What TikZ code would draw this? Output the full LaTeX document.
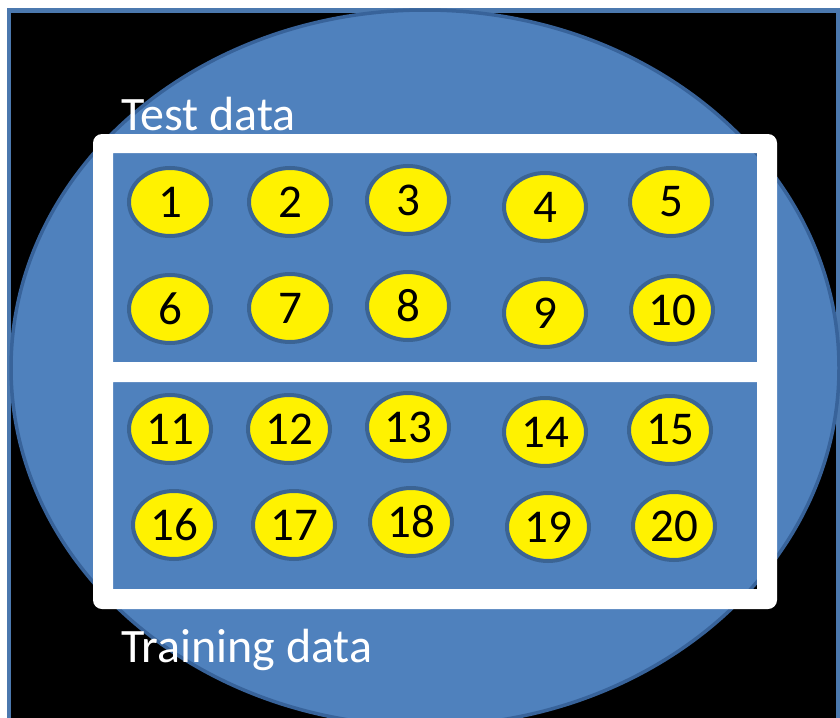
\documentclass[tikz,border=0pt]{standalone}
\usepackage{fontspec}
\setmainfont{Carlito}
\usetikzlibrary{shapes.geometric}
\definecolor{ellfill}{HTML}{4F81BD}
\definecolor{ellline}{HTML}{38639A}
\definecolor{frameline}{HTML}{4B78AE}
\definecolor{dotline}{HTML}{3B6494}
\tikzset{
  dot/.style={ellipse, draw=dotline, line width=4pt, fill=yellow, minimum width=82pt, minimum height=68pt, inner sep=0pt, font=\fontsize{47}{52}\selectfont, text=black},
  label/.style={anchor=base west, inner sep=0pt, text=white, font=\fontsize{48}{56}\selectfont}
}
\begin{document}
\begin{tikzpicture}[x=1pt,y=-1pt]
\useasboundingbox (0,0) rectangle (840,717);
\begin{scope}
\clip (0,0) rectangle (840,717);
\fill[white] (0,0) rectangle (840,717);
\fill[black] (9,10.5) rectangle (838,740);
\draw[frameline, line width=4.5pt] (838,740) -- (9,740) -- (9,10.5) -- (838,10.5) -- cycle;
\node[ellipse, fill=ellfill, draw=ellline, line width=3.5pt, minimum width=828pt, minimum height=716pt, inner sep=0pt] (big) at (425,368) {};
\fill[white, even odd rule, rounded corners=9pt] (93,134) rectangle (777,609)
  [sharp corners] (113,153) rectangle (757,362) (113,382) rectangle (757,589);
\node[label] (test) at (121,130) {Test data};
\node[label] (train) at (121,662) {Training data};
\node[dot] (n1) at (170,202) {1};
\node[dot] (n2) at (290,202) {2};
\node[dot] (n3) at (408,200) {3};
\node[dot] (n4) at (545,207) {4};
\node[dot] (n5) at (671,202) {5};
\node[dot] (n6) at (170,309) {6};
\node[dot] (n7) at (290,308) {7};
\node[dot] (n8) at (408,306) {8};
\node[dot] (n9) at (545,313) {9};
\node[dot] (n10) at (672,310) {10};
\node[dot] (n11) at (170,429) {11};
\node[dot] (n12) at (289,429) {12};
\node[dot] (n13) at (408,427) {13};
\node[dot] (n14) at (545,432) {14};
\node[dot] (n15) at (670,430) {15};
\node[dot] (n16) at (174,525) {16};
\node[dot] (n17) at (294,525) {17};
\node[dot] (n18) at (411,522) {18};
\node[dot] (n19) at (548,527) {19};
\node[dot] (n20) at (674,526) {20};
\end{scope}
\end{tikzpicture}
\end{document}
